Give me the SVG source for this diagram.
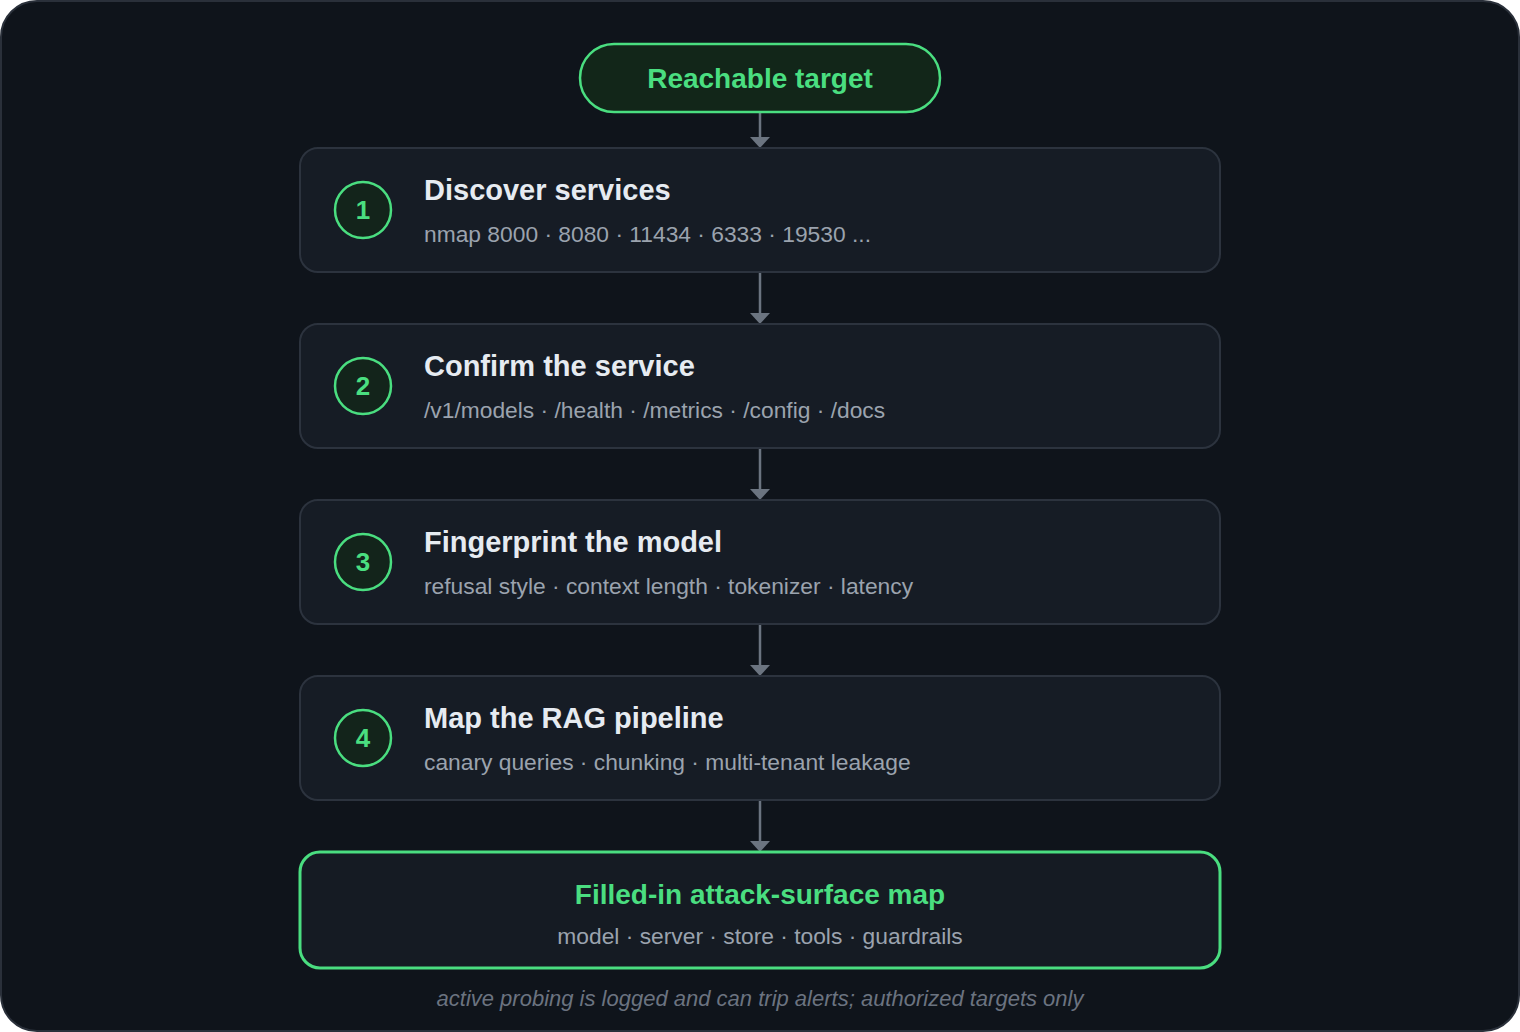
<svg xmlns="http://www.w3.org/2000/svg" width="1520" height="1032" viewBox="0 0 1520 1032">
<defs>
<style>
.step{fill:#161c25;stroke:#2c333e;stroke-width:2}
.num{fill:#13241b;stroke:#4ade80;stroke-width:2.5}
.numt{font-family:"Liberation Sans",Arial,sans-serif;font-weight:bold;font-size:26px;fill:#4ade80;text-anchor:middle}
.title{font-family:"Liberation Sans",Arial,sans-serif;font-weight:bold;font-size:29px;fill:#e6ebf1}
.sub{font-family:"Liberation Sans",Arial,sans-serif;font-size:22.8px;fill:#9ba3ae}
.gtitle{font-family:"Liberation Sans",Arial,sans-serif;font-weight:bold;font-size:28px;fill:#4ade80;text-anchor:middle}
.conn{stroke:#6b7480;stroke-width:2.5;fill:none}
.head{fill:#6b7480}
</style>
</defs>
<rect x="1" y="1" width="1518" height="1030" rx="36" fill="#0f141b" stroke="#2a303a" stroke-width="2"/>

<g id="connectors">
<line class="conn" x1="760" y1="112" x2="760" y2="138"/>
<polygon class="head" points="750,137 770,137 760,148"/>
<line class="conn" x1="760" y1="272" x2="760" y2="314"/>
<polygon class="head" points="750,313 770,313 760,324"/>
<line class="conn" x1="760" y1="448" x2="760" y2="490"/>
<polygon class="head" points="750,489 770,489 760,500"/>
<line class="conn" x1="760" y1="624" x2="760" y2="666"/>
<polygon class="head" points="750,665 770,665 760,676"/>
<line class="conn" x1="760" y1="800" x2="760" y2="842"/>
<polygon class="head" points="750,841 770,841 760,852"/>
</g>

<g id="start">
<rect x="580" y="44" width="360" height="68" rx="34" fill="#122619" stroke="#4ade80" stroke-width="2.5"/>
<text class="gtitle" x="760" y="88">Reachable target</text>
</g>

<g id="step1">
<rect class="step" x="300" y="148" width="920" height="124" rx="18"/>
<circle class="num" cx="363" cy="210" r="28"/>
<text class="numt" x="363" y="219">1</text>
<text class="title" x="424" y="200">Discover services</text>
<text class="sub" x="424" y="242">nmap 8000 · 8080 · 11434 · 6333 · 19530 ...</text>
</g>

<g id="step2">
<rect class="step" x="300" y="324" width="920" height="124" rx="18"/>
<circle class="num" cx="363" cy="386" r="28"/>
<text class="numt" x="363" y="395">2</text>
<text class="title" x="424" y="376">Confirm the service</text>
<text class="sub" x="424" y="418">/v1/models · /health · /metrics · /config · /docs</text>
</g>

<g id="step3">
<rect class="step" x="300" y="500" width="920" height="124" rx="18"/>
<circle class="num" cx="363" cy="562" r="28"/>
<text class="numt" x="363" y="571">3</text>
<text class="title" x="424" y="552">Fingerprint the model</text>
<text class="sub" x="424" y="594">refusal style · context length · tokenizer · latency</text>
</g>

<g id="step4">
<rect class="step" x="300" y="676" width="920" height="124" rx="18"/>
<circle class="num" cx="363" cy="738" r="28"/>
<text class="numt" x="363" y="747">4</text>
<text class="title" x="424" y="728">Map the RAG pipeline</text>
<text class="sub" x="424" y="770">canary queries · chunking · multi-tenant leakage</text>
</g>

<g id="result">
<rect x="300" y="852" width="920" height="116" rx="20" fill="#151b23" stroke="#4ade80" stroke-width="3"/>
<text class="gtitle" x="760" y="904">Filled-in attack-surface map</text>
<text class="sub" x="760" y="944" text-anchor="middle">model · server · store · tools · guardrails</text>
</g>

<text x="760" y="1006" text-anchor="middle" font-family="Liberation Sans, Arial, sans-serif" font-style="italic" font-size="22" fill="#6b7380">active probing is logged and can trip alerts; authorized targets only</text>
</svg>
